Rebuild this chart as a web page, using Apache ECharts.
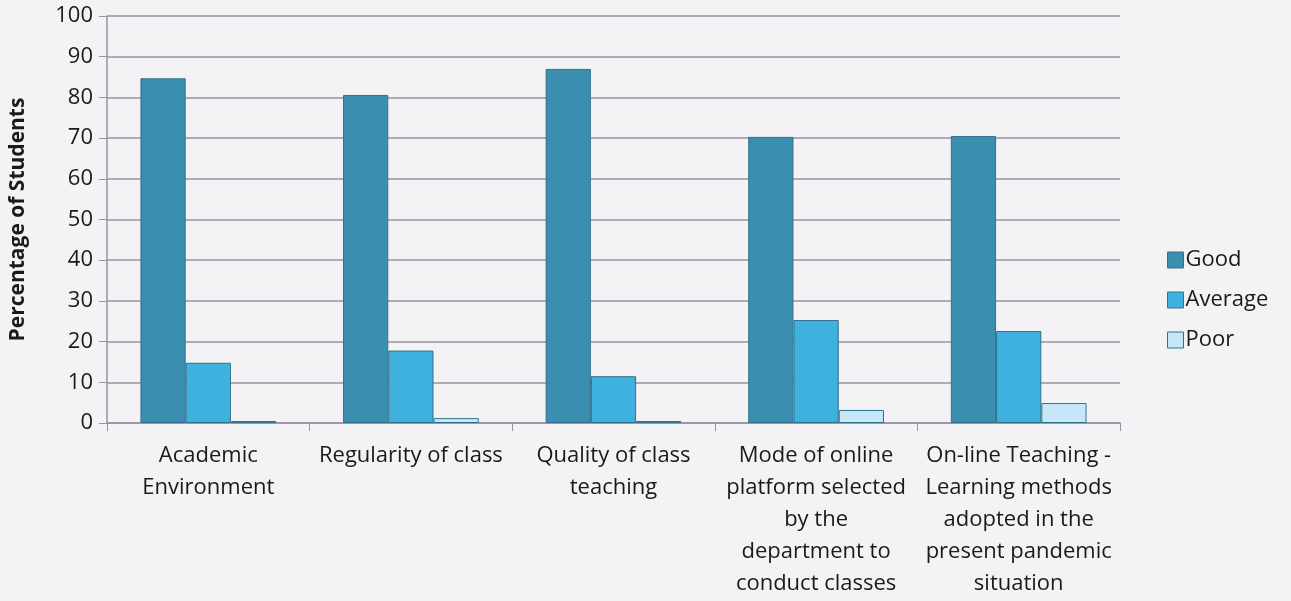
<!DOCTYPE html>
<html>
<head>
<meta charset="utf-8">
<script src="https://cdn.jsdelivr.net/npm/echarts@6/dist/echarts.min.js"></script>
<style>
  html, body { margin: 0; padding: 0; background: #f3f2f4; }
  #main { width: 1291px; height: 601px; }
</style>
</head>
<body>
<div id="main"></div>
<script>
const categories = [
  'Academic\nEnvironment',
  'Regularity of class',
  'Quality of class\nteaching',
  'Mode of online\nplatform selected\nby the\ndepartment to\nconduct classes',
  'On-line Teaching -\nLearning methods\nadopted in the\npresent pandemic\nsituation'
];
const good = [84.7, 80.6, 87.0, 70.3, 70.5];
const average = [14.8, 17.8, 11.5, 25.3, 22.6];
const poor = [0.5, 1.2, 0.5, 3.2, 4.9];
const yTicks = [0, 10, 20, 30, 40, 50, 60, 70, 80, 90, 100];

const chart = echarts.init(document.getElementById('main'));
const font = '"Open Sans", Lato, sans-serif';

function barSeries(name, data, color) {
  return {
    name: name,
    type: 'bar',
    data: data,
    barGap: '0%',
    barCategoryGap: '33%',
    itemStyle: { color: color, borderColor: '#35708a', borderWidth: 1 }
  };
}

chart.setOption({
  backgroundColor: '#f3f2f4',
  animation: false,
  textStyle: { fontFamily: font },
  grid: { left: 107, right: 171, top: 16, bottom: 178, outerBoundsMode: 'none' },
  legend: {
    orient: 'vertical',
    left: 1162,
    top: 243,
    itemWidth: 16,
    itemHeight: 16,
    itemGap: 16,
    icon: 'rect',
    textStyle: { fontSize: 22, lineHeight: 24, color: '#1a1a1a', fontFamily: font, padding: [0, 0, 0, -3] },
    itemStyle: { borderColor: '#35708a', borderWidth: 1 }
  },
  xAxis: {
    type: 'category',
    data: categories,
    axisLine: { lineStyle: { color: '#9a90a6', width: 1.5 } },
    axisTick: { show: true, length: 8, lineStyle: { color: '#9a90a6' } },
    axisLabel: {
      interval: 0,
      fontSize: 22,
      lineHeight: 32,
      margin: 17,
      color: '#1a1a1a',
      fontFamily: font
    }
  },
  yAxis: {
    type: 'value',
    min: 0,
    max: 100,
    interval: 10,
    name: 'Percentage of Students',
    nameLocation: 'middle',
    nameGap: 78,
    nameTextStyle: { fontSize: 21, fontWeight: 'bold', color: '#1a1a1a', fontFamily: font },
    axisLine: { show: true, lineStyle: { color: '#9a90a6', width: 1.5 } },
    axisTick: { show: true, length: 8, lineStyle: { color: '#9a90a6' } },
    splitLine: { lineStyle: { color: '#9a90a6', width: 1.5 } },
    axisLabel: {
      fontSize: 22,
      margin: 14,
      color: '#1a1a1a',
      fontFamily: font,
      formatter: v => yTicks.includes(v) ? String(v) : ''
    }
  },
  series: [
    barSeries('Good', good, '#3a8fb0'),
    barSeries('Average', average, '#3fb1df'),
    barSeries('Poor', poor, '#c6e7f7')
  ]
});
</script>
</body>
</html>
